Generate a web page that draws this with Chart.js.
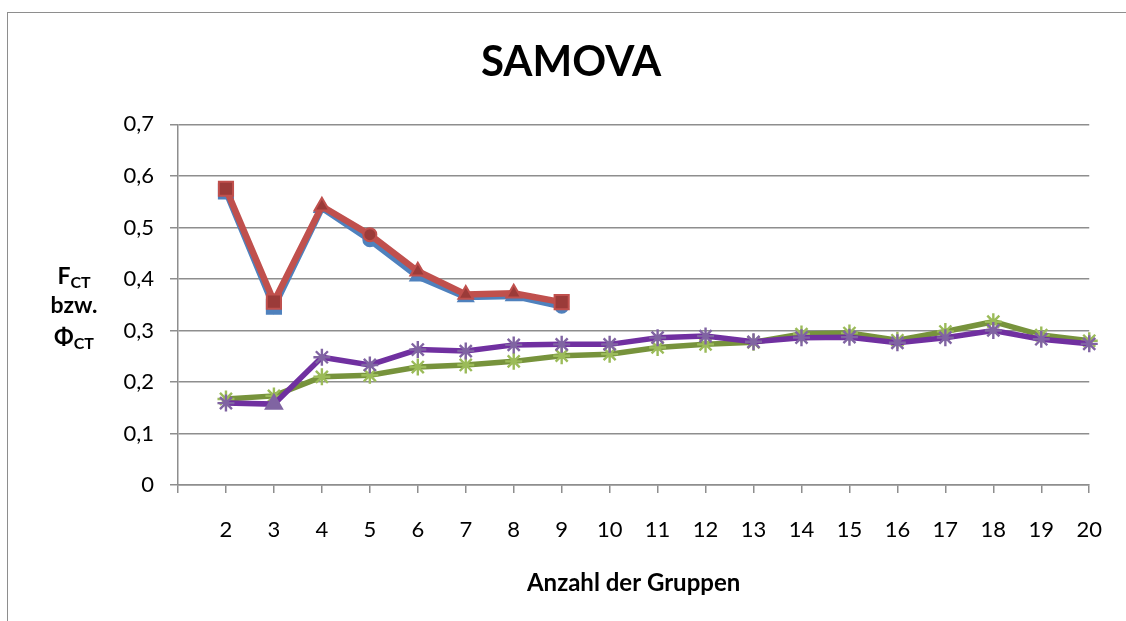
<!DOCTYPE html>
<html>
<head>
<meta charset="utf-8">
<script src="https://cdn.jsdelivr.net/npm/chart.js@4.4.0/dist/chart.umd.min.js"></script>
<style>
  html, body { margin: 0; padding: 0; background: #fff; overflow: hidden; }
  #wrap { position: relative; width: 1126px; height: 621px; }
  #frame { position: absolute; left: 7px; top: 12px; width: 1200px; height: 700px;
           border: 1.5px solid #8e8e8e; box-sizing: border-box; }
  #chart { position: absolute; left: 0; top: 0; }
</style>
</head>
<body>
<div id="wrap">
  <div id="frame"></div>
  <canvas id="chart" width="1126" height="621"></canvas>
</div>
<script>
// Anzahl der Gruppen
const groups = [2, 3, 4, 5, 6, 7, 8, 9, 10, 11, 12, 13, 14, 15, 16, 17, 18, 19, 20];

// upper pair (groups 2..9)
const fctBlue = [0.570, 0.346, 0.538, 0.476, 0.405, 0.365, 0.367, 0.347];
const fctRed  = [0.575, 0.356, 0.541, 0.486, 0.415, 0.370, 0.372, 0.355];

// lower pair (groups 2..20)
const phiGreen  = [0.167, 0.173, 0.210, 0.213, 0.229, 0.233, 0.240, 0.251, 0.254, 0.267,
                   0.273, 0.277, 0.293, 0.295, 0.281, 0.298, 0.317, 0.291, 0.280];
const phiPurple = [0.159, 0.157, 0.248, 0.233, 0.263, 0.260, 0.272, 0.273, 0.273, 0.286,
                   0.289, 0.278, 0.286, 0.287, 0.276, 0.286, 0.300, 0.283, 0.274];

const yTicks = [0, 0.1, 0.2, 0.3, 0.4, 0.5, 0.6, 0.7];

// marker shapes per point, as in the original sheet
const blueMarkers = ['rect', 'rect', 'triangle', 'circle', 'triangle', 'triangle', 'triangle', 'circle'];
const redMarkers  = ['rect', 'rect', 'triangle', 'circle', 'triangle', 'triangle', 'triangle', 'rect'];

function toPoints(values) {
    return values.map((v, i) => ({ x: groups[i], y: v }));
}

function markerSize(style) {
    if (style === 'rect') return 10;
    if (style === 'triangle') return 8.5;
    return 6.5;
}

const font = 'Lato';
const gridGray = '#8e8e8e';

const yTitle = {
    id: 'yTitle',
    afterDraw(chart) {
        const ctx = chart.ctx;
        const cx = 74;
        ctx.save();
        ctx.fillStyle = '#000';
        ctx.textBaseline = 'alphabetic';
        drawSub(ctx, 'F', 'CT', cx, 284);
        ctx.font = `bold 23px ${font}`;
        ctx.textAlign = 'center';
        ctx.fillText('bzw.', cx, 313);
        drawSub(ctx, 'Φ', 'CT', cx, 345);
        ctx.restore();
    }
};

function drawSub(ctx, main, sub, cx, base) {
    ctx.font = `bold 23px ${font}`;
    const w1 = ctx.measureText(main).width;
    ctx.font = `bold 16px ${font}`;
    const w2 = ctx.measureText(sub).width;
    const left = cx - (w1 + w2) / 2;
    ctx.textAlign = 'left';
    ctx.font = `bold 23px ${font}`;
    ctx.fillText(main, left, base);
    ctx.font = `bold 16px ${font}`;
    ctx.fillText(sub, left + w1, base + 4);
}

const ctx = document.getElementById('chart').getContext('2d');
new Chart(ctx, {
    type: 'line',
    data: {
        datasets: [{
            label: 'F_CT (1)',
            data: toPoints(fctBlue),
            borderColor: '#4F81BD',
            backgroundColor: '#4F81BD',
            pointBackgroundColor: '#4F81BD',
            pointBorderColor: '#4F81BD',
            pointBorderWidth: 2,
            pointStyle: blueMarkers,
            pointRadius: blueMarkers.map(markerSize),
            borderWidth: 6.5,
            order: 4
        }, {
            label: 'F_CT (2)',
            data: toPoints(fctRed),
            borderColor: '#C0504D',
            backgroundColor: '#C0504D',
            pointBackgroundColor: '#9B3B39',
            pointBorderColor: '#C0504D',
            pointBorderWidth: 2,
            pointStyle: redMarkers,
            pointRadius: redMarkers.map(markerSize),
            borderWidth: 6.5,
            order: 3
        }, {
            label: 'Φ_CT (1)',
            data: toPoints(phiGreen),
            borderColor: '#77933C',
            backgroundColor: '#9BBB59',
            pointBackgroundColor: '#9BBB59',
            pointBorderColor: '#9BBB59',
            pointBorderWidth: 2.4,
            pointStyle: 'star',
            pointRadius: 8.5,
            borderWidth: 5.5,
            order: 2
        }, {
            label: 'Φ_CT (2)',
            data: toPoints(phiPurple),
            borderColor: '#7030A0',
            backgroundColor: '#8064A2',
            pointBackgroundColor: '#8064A2',
            pointBorderColor: '#8064A2',
            pointBorderWidth: 2.4,
            pointStyle: phiPurple.map((v, i) => i === 1 ? 'triangle' : 'star'),
            pointRadius: phiPurple.map((v, i) => i === 1 ? 9 : 8.5),
            borderWidth: 5.5,
            order: 1
        }]
    },
    options: {
        responsive: false,
        animation: false,
        events: [],
        layout: { padding: { left: 52, right: 36, top: 0, bottom: 0 } },
        elements: { line: { tension: 0 } },
        datasets: { line: { clip: false } },
        plugins: {
            legend: { display: false },
            tooltip: { enabled: false },
            title: {
                display: true,
                text: 'SAMOVA',
                color: '#000',
                font: { family: font, size: 42, weight: 'bold' },
                padding: { top: 37, bottom: 37 }
            }
        },
        scales: {
            x: {
                type: 'linear',
                min: 1,
                max: 20,
                afterFit: s => { s.height = 136; },
                ticks: {
                    stepSize: 1,
                    autoSkip: false,
                    maxRotation: 0,
                    padding: 24,
                    color: '#000',
                    font: { family: font, size: 22 },
                    callback: v => v === 1 ? '' : String(v)
                },
                grid: { drawOnChartArea: false, drawTicks: true, tickLength: 8, color: gridGray, lineWidth: 1.5 },
                border: { color: gridGray, width: 1.5 },
                title: {
                    display: true,
                    text: 'Anzahl der Gruppen',
                    color: '#000',
                    font: { family: font, size: 24, weight: 'bold' },
                    padding: { top: 0, bottom: 23 }
                }
            },
            y: {
                min: 0,
                max: 0.7,
                afterFit: s => { s.width = 126; },
                afterBuildTicks: s => { s.ticks = yTicks.map(v => ({ value: v })); },
                ticks: {
                    padding: 16,
                    color: '#000',
                    font: { family: font, size: 22 },
                    callback: v => v === 0 ? '0' : v.toFixed(1).replace('.', ',')
                },
                grid: { drawTicks: true, tickLength: 8, color: gridGray, lineWidth: 1.5 },
                border: { color: gridGray, width: 1.5 }
            }
        }
    },
    plugins: [yTitle]
});
</script>
</body>
</html>
